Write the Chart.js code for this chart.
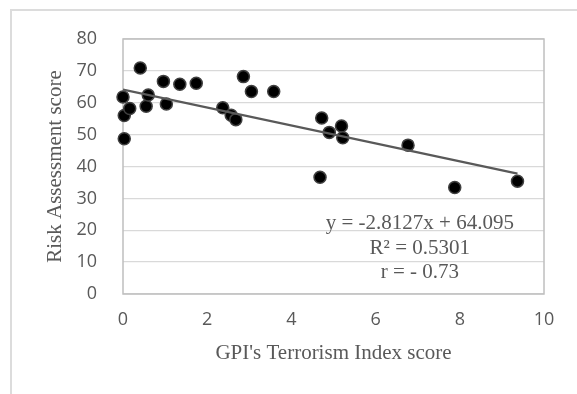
<!DOCTYPE html>
<html>
<head>
<meta charset="utf-8">
<script src="https://cdn.jsdelivr.net/npm/chart.js@4"></script>
<style>
  html, body { margin: 0; padding: 0; background: #fff; }
  #wrap { position: relative; width: 577px; height: 394px; }
  #frame { position: absolute; left: 10px; top: 9px; right: 0; bottom: 0;
           border-left: 2px solid #dcdcdc; border-top: 2px solid #dcdcdc; }
  canvas { position: absolute; left: 0; top: 0; }
</style>
</head>
<body>
<div id="wrap">
  <div id="frame"></div>
  <canvas id="myChart" width="577" height="394"></canvas>
</div>
<script>
"use strict";

// GPI terrorism index vs risk assessment score
const gpiScores = [0.00, 0.03, 0.03, 0.16, 0.41, 0.55, 0.60, 0.96, 1.03, 1.35, 1.74,
  2.37, 2.57, 2.68, 2.86, 3.05, 3.58, 4.72, 4.68, 4.90, 5.19, 5.22, 6.77, 7.88, 9.37];
const riskScores = [61.8, 56.0, 48.7, 58.2, 70.9, 58.9, 62.4, 66.7, 59.6, 65.8, 66.1,
  58.4, 56.1, 54.7, 68.2, 63.5, 63.5, 55.2, 36.6, 50.7, 52.7, 49.0, 46.7, 33.4, 35.4];

// linear trendline printed on the chart
const slope = -2.8127;
const intercept = 64.095;
const trendX = [0, 9.37];

const equationLines = ['y = -2.8127x + 64.095', 'R\u00b2 = 0.5301', 'r = - 0.73'];

const points = gpiScores.map((x, i) => ({ x: x, y: riskScores[i] }));
const trend = trendX.map(x => ({ x: x, y: intercept + slope * x }));

const grey = '#595959';

// plot box + the equation text
const boxPlugin = {
  id: 'box',
  beforeDatasetsDraw(chart) {
    const { ctx, chartArea } = chart;
    ctx.save();
    ctx.strokeStyle = '#bfbfbf';
    ctx.lineWidth = 1.5;
    ctx.strokeRect(chartArea.left, chartArea.top, chartArea.right - chartArea.left, chartArea.bottom - chartArea.top);
    ctx.restore();
  },
  afterDatasetsDraw(chart) {
    const { ctx, scales } = chart;
    const cx = scales.x.getPixelForValue(7.05);
    let cy = scales.y.getPixelForValue(22.0);
    ctx.save();
    ctx.font = '21px "Liberation Serif"';
    ctx.fillStyle = grey;
    ctx.textAlign = 'center';
    ctx.textBaseline = 'middle';
    equationLines.forEach(line => {
      ctx.fillText(line, cx, cy);
      cy += 24.5;
    });
    ctx.restore();
  }
};

const ctx = document.querySelector('#myChart').getContext('2d');

const config = {
  type: 'scatter',
  data: {
    datasets: [
      {
        data: points,
        backgroundColor: '#000000',
        borderColor: '#404040',
        borderWidth: 1.5,
        pointRadius: 6,
        clip: false,
        order: 2
      },
      {
        type: 'line',
        data: trend,
        borderColor: grey,
        borderWidth: 2.25,
        pointRadius: 0,
        fill: false,
        order: 1
      }
    ]
  },
  options: {
    responsive: false,
    animation: false,
    layout: { padding: { top: 39, right: 33, left: 0, bottom: 0 } },
    plugins: {
      legend: { display: false },
      tooltip: { enabled: false }
    },
    scales: {
      x: {
        type: 'linear',
        min: 0,
        max: 10,
        afterFit: (scale) => { scale.height = 100; },
        ticks: { stepSize: 2, padding: 15, color: grey, font: { family: 'Open Sans', size: 18 } },
        grid: { display: false, drawTicks: false },
        border: { display: false },
        title: {
          display: true,
          text: "GPI's Terrorism Index score",
          color: grey,
          font: { family: 'Liberation Serif', size: 21 },
          padding: { top: 0, bottom: 28 }
        }
      },
      y: {
        min: 0,
        max: 80,
        afterFit: (scale) => { scale.width = 123; },
        ticks: { stepSize: 10, padding: 26, color: grey, font: { family: 'Open Sans', size: 18 } },
        grid: { color: '#d9d9d9', lineWidth: 1.3, drawTicks: false },
        border: { display: false },
        title: {
          display: true,
          text: 'Risk Assessment score',
          color: grey,
          font: { family: 'Liberation Serif', size: 21 },
          padding: { top: 43, bottom: 0 }
        }
      }
    }
  },
  plugins: [boxPlugin]
};

const myChart = new Chart(ctx, config);
</script>
</body>
</html>
